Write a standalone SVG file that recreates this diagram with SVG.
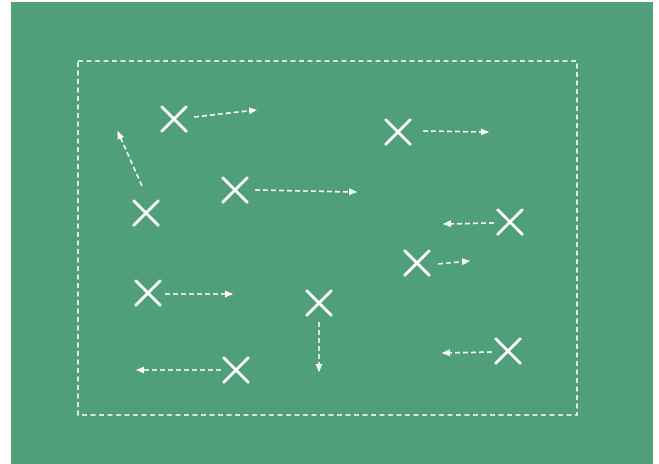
<svg xmlns="http://www.w3.org/2000/svg" width="659" height="464" viewBox="0 0 659 464">
<style>
.x{stroke:#fff;stroke-width:3;stroke-linecap:round;fill:none}
.a{stroke:#fff;stroke-width:1.6;stroke-dasharray:5 3;fill:none}
.b{fill:none;stroke:#fff;stroke-width:1.6;stroke-dasharray:5 3.5}
</style>
<defs>
<marker id="ah" viewBox="0 0 8 8" refX="7" refY="4" markerWidth="8" markerHeight="8" markerUnits="userSpaceOnUse" orient="auto">
<path d="M0,0.5 L8,4 L0,7.5 Z" fill="#fff"/>
</marker>
</defs>
<rect x="0" y="0" width="659" height="464" fill="#fff"/>
<rect x="11" y="2" width="642" height="462" fill="#509f7b"/>
<rect class="b" x="78" y="61" width="499" height="354"/>
<g id="connectors">
<line class="a" x1="194" y1="117" x2="256" y2="110" marker-end="url(#ah)"/>
<line class="a" x1="142" y1="186" x2="118" y2="132" marker-end="url(#ah)"/>
<line class="a" x1="255" y1="190" x2="356" y2="192" marker-end="url(#ah)"/>
<line class="a" x1="423" y1="131" x2="488" y2="132" marker-end="url(#ah)"/>
<line class="a" x1="494" y1="223" x2="444" y2="224" marker-end="url(#ah)"/>
<line class="a" x1="438" y1="264" x2="469" y2="261" marker-end="url(#ah)"/>
<line class="a" x1="165" y1="294" x2="232" y2="294" marker-end="url(#ah)"/>
<line class="a" x1="319" y1="322" x2="319" y2="371" marker-end="url(#ah)"/>
<line class="a" x1="221" y1="370" x2="137" y2="370" marker-end="url(#ah)"/>
<line class="a" x1="492" y1="352" x2="443" y2="353" marker-end="url(#ah)"/>
</g>
<g id="p1"><path class="x" d="M162,107 L186,131 M186,107 L162,131"/></g>
<g id="p2"><path class="x" d="M134,201 L158,225 M158,201 L134,225"/></g>
<g id="p3"><path class="x" d="M223,178 L247,202 M247,178 L223,202"/></g>
<g id="p4"><path class="x" d="M386,120 L410,144 M410,120 L386,144"/></g>
<g id="p5"><path class="x" d="M498,210 L522,234 M522,210 L498,234"/></g>
<g id="p6"><path class="x" d="M405,251 L429,275 M429,251 L405,275"/></g>
<g id="p7"><path class="x" d="M136,281 L160,305 M160,281 L136,305"/></g>
<g id="p8"><path class="x" d="M307,291 L331,315 M331,291 L307,315"/></g>
<g id="p9"><path class="x" d="M224,358 L248,382 M248,358 L224,382"/></g>
<g id="p10"><path class="x" d="M496,339 L520,363 M520,339 L496,363"/></g>
</svg>
